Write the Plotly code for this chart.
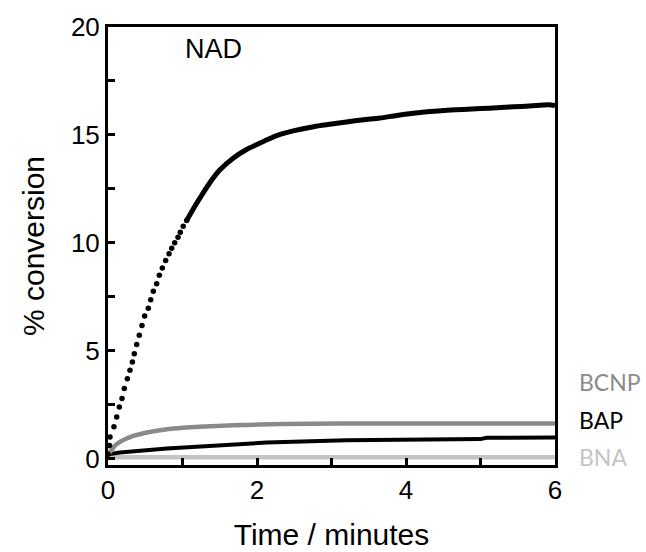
import plotly.graph_objects as go

# NAD: early (sparse dots) and later (dense noisy line) portions
nad_dot_t = [0.0, 0.02, 0.027, 0.08, 0.117, 0.152, 0.188, 0.219, 0.26, 0.295, 0.327, 0.353,
             0.385, 0.42, 0.456, 0.492, 0.541, 0.573, 0.608, 0.653, 0.689, 0.729,
             0.774, 0.819, 0.855, 0.895, 0.94, 0.97, 1.01, 1.056]
nad_dot_v = [0.2, 0.6, 1.0, 1.47, 1.93, 2.39, 2.78, 3.24, 3.70, 4.09, 4.47, 4.86,
             5.28, 5.71, 6.17, 6.6, 6.97, 7.36, 7.75, 8.1, 8.49, 8.83,
             9.18, 9.49, 9.75, 10.0, 10.26, 10.49, 10.77, 11.03]
nad_line_t = [1.056, 1.15, 1.235, 1.36, 1.503, 1.68, 1.86, 2.0, 2.15, 2.31, 2.5, 2.76, 3.0,
              3.2, 3.43, 3.65, 3.875, 4.1, 4.32, 4.55, 4.77, 5.0, 5.22, 5.44, 5.66, 5.91, 6.0]
nad_line_v = [11.03, 11.6, 12.08, 12.75, 13.38, 13.92, 14.32, 14.55, 14.8, 15.02, 15.2, 15.38,
              15.5, 15.6, 15.7, 15.78, 15.9, 16.0, 16.08, 16.14, 16.18, 16.22, 16.26, 16.3,
              16.34, 16.4, 16.36]

bcnp_t = [0.0, 0.03, 0.08, 0.16, 0.25, 0.34, 0.45, 0.56, 0.72, 0.88, 1.23, 1.68, 2.35, 3.11,
          4.0, 5.0, 6.0]
bcnp_v = [0.2, 0.31, 0.55, 0.77, 0.93, 1.05, 1.15, 1.23, 1.32, 1.39, 1.47, 1.54, 1.6, 1.62,
          1.62, 1.62, 1.62]

bap_t = [0.0, 0.16, 0.79, 1.46, 2.13, 3.2, 4.37, 5.0, 5.08, 6.0]
bap_v = [0.2, 0.28, 0.46, 0.62, 0.74, 0.85, 0.89, 0.9, 0.96, 0.97]

bna_t = [0.0, 0.1, 1.0, 2.0, 3.0, 4.0, 5.0, 6.0]
bna_v = [0.15, 0.06, 0.06, 0.06, 0.06, 0.06, 0.06, 0.06]

x_ticks = [0, 1, 2, 3, 4, 5, 6]
x_labels = ["0", "", "2", "", "4", "", "6"]
y_ticks = [0, 2.5, 5, 7.5, 10, 12.5, 15, 17.5, 20]
y_labels = ["0", "", "5", "", "10", "", "15", "", "20"]

series_labels = ["BCNP", "BAP", "BNA"]
series_colors = ["#8a8a8a", "#000000", "#c4c4c4"]
label_y = [3.55, 1.8, 0.05]

FONT = "Liberation Sans, Arial, sans-serif"

fig = go.Figure()
fig.add_trace(go.Scatter(x=bna_t, y=bna_v, mode="lines",
                         line=dict(color=series_colors[2], width=4.5), showlegend=False))
fig.add_trace(go.Scatter(x=bap_t, y=bap_v, mode="lines",
                         line=dict(color=series_colors[1], width=4), showlegend=False))
fig.add_trace(go.Scatter(x=bcnp_t, y=bcnp_v, mode="lines",
                         line=dict(color=series_colors[0], width=4.5, shape="spline", smoothing=0.6),
                         showlegend=False))
fig.add_trace(go.Scatter(x=nad_dot_t, y=nad_dot_v, mode="markers",
                         marker=dict(color="black", size=5.5, symbol="circle"), showlegend=False))
fig.add_trace(go.Scatter(x=nad_line_t, y=nad_line_v, mode="lines",
                         line=dict(color="black", width=5, shape="spline", smoothing=0.8),
                         showlegend=False))

for lab, col, yy in zip(series_labels, series_colors, label_y):
    fig.add_annotation(x=1.05, xref="paper", y=yy, yref="y", text=lab, showarrow=False,
                       xanchor="left", yanchor="middle",
                       font=dict(family="Lato, Open Sans, sans-serif", size=23, color=col))

fig.add_annotation(x=1.41, y=19.0, xref="x", yref="y", text="NAD", showarrow=False,
                   font=dict(family=FONT, size=27, color="black"))

axis_common = dict(showline=True, linecolor="black", linewidth=3, mirror=True,
                   ticks="inside", ticklen=7, tickwidth=2.5, tickcolor="black",
                   showgrid=False, zeroline=False, automargin=False,
                   tickfont=dict(family=FONT, size=26, color="black"))

fig.update_xaxes(range=[0, 6], tickmode="array", tickvals=x_ticks, ticktext=x_labels,
                 title=dict(text="Time / minutes", font=dict(family=FONT, size=30, color="black"),
                            standoff=20),
                 **axis_common)
fig.update_yaxes(range=[-0.3, 20], tickmode="array", tickvals=y_ticks, ticktext=y_labels,
                 title=dict(text="% conversion", font=dict(family=FONT, size=30, color="black"),
                            standoff=18),
                 **axis_common)

fig.update_layout(width=646, height=552, margin=dict(l=108, r=91, t=27, b=87),
                  plot_bgcolor="white", paper_bgcolor="white")
fig.write_html("out.html")
